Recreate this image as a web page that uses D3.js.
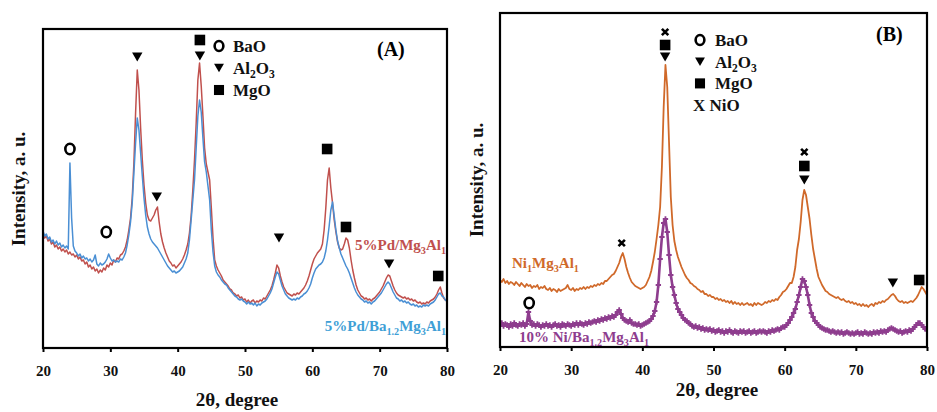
<!DOCTYPE html>
<html><head><meta charset="utf-8">
<script src="https://cdn.jsdelivr.net/npm/d3@7"></script>
<style>body{margin:0;background:#fff} svg{display:block}</style>
</head><body>
<svg id="c" width="937" height="412"></svg>
<script>
// ---------------- DATA ----------------
// sampling grid: 2θ from 20° to 80° every 0.25° (241 points per pattern)
const thetaStart = 20, thetaStep = 0.25;
const xTicks = [20, 30, 40, 50, 60, 70, 80];

// Panel A: 5%Pd/Mg3Al1 (red), intensity a.u.
const redA = [
115,110,112,107, 109,104,106,101, 103,99,101,97, 99,96,98,94, 96,93,94,91,
93,89,91,87, 88,84,86,81, 83,79,81,77, 79,75,78,76, 80,78,83,81,
85,83,88,86, 90,89,93,94, 97,101,108,118, 130,150,185,235, 278,258,220,188,
163,145,133,128, 127,130,133,138, 141,126,114,106, 100,95,91,87, 85,82,83,80,
82,84,86,89, 93,98,104,115, 132,158,188,225, 268,285,262,232, 200,184,176,168,
140,110,88,82, 78,75,72,68, 66,64,62,59, 58,55,54,52, 53,50,51,48,
49,46,48,45, 47,48,45,47, 46,48,47,50, 49,52,55,58, 62,68,75,83,
80,72,66,61, 58,55,54,53, 52,54,53,55, 54,56,58,60, 63,67,72,78,
84,89,92,95, 97,99,104,118, 140,168,180,160, 145,128,116,106, 100,98,99,104,
110,108,100,88, 78,70,63,58, 55,52,51,49, 50,48,49,47, 49,50,52,54,
56,59,62,66, 70,73,72,67, 62,58,55,53, 52,51,50,51, 49,50,48,49,
47,48,46,45, 46,44,45,44, 46,45,47,48, 49,51,54,58, 61,55,50,48,
47];

// Panel A: 5%Pd/Ba1.2Mg3Al1 (blue)
const blueA = [
117,112,114,109, 111,106,108,104, 107,103,105,101, 103,100,102,99, 185,130,102,97,
95,92,94,90, 92,89,90,87, 89,86,88,93, 84,82,85,83, 84,86,89,94,
90,87,88,86, 87,86,89,88, 91,95,103,113, 126,145,175,205, 230,218,195,172,
150,133,121,114, 109,106,104,102, 100,97,94,91, 88,85,82,80, 78,76,77,75,
76,77,79,81, 85,89,95,108, 128,148,168,200, 232,248,236,210, 186,176,162,148,
118,96,82,76, 73,71,68,66, 64,63,60,58, 56,54,52,51, 49,48,49,47,
46,44,46,44, 45,43,45,42, 44,43,45,46, 47,49,52,55, 59,65,71,76,
74,68,62,58, 54,52,50,49, 48,49,48,50, 49,51,52,54, 55,57,60,64,
70,75,79,81, 83,84,86,90, 97,108,122,138, 146,132,118,107, 100,94,90,86,
82,79,75,70, 65,60,56,53, 51,49,48,46, 47,45,46,44, 46,47,49,51,
53,55,58,61, 64,66,64,60, 56,53,50,49, 47,48,46,47, 45,46,44,43,
44,42,43,41, 42,41,43,42, 43,42,44,45, 46,48,51,54, 55,52,51,48,
47];

// Panel B: Ni1Mg3Al1 (orange)
const orangeB = [
67,65,68,64, 66,63,65,64, 62,65,63,61, 64,62,60,63, 61,62,59,61,
60,62,58,60, 59,61,58,57, 59,56,58,57, 55,58,56,57, 58,59,62,58,
57,59,56,58, 57,59,58,60, 58,60,59,61, 60,62,61,63, 62,64,63,66,
66,68,70,72, 73,76,80,84, 90,94,88,80, 74,69,65,63, 61,60,59,58,
59,60,62,66, 70,76,85,95, 108,122,140,180, 240,282,260,205, 150,122,106,97,
90,85,80,76, 72,69,67,64, 63,61,60,58, 57,55,56,53, 53,51,52,50,
50,48,49,47, 48,46,47,45, 46,44,46,43, 45,43,44,42, 44,42,43,44,
42,43,41,44, 42,44,43,42, 43,45,44,46, 45,47,46,48, 47,50,52,55,
56,58,61,64, 64,70,80,97, 108,125,147,157, 152,140,128,112, 98,88,78,70,
66,62,59,56, 55,53,52,51, 50,49,50,48, 47,48,46,45, 46,44,45,43,
44,42,43,41, 43,41,42,40, 42,43,41,44, 43,45,44,46, 45,47,48,50,
52,53,51,48, 46,45,46,44, 45,44,45,46, 45,47,49,52, 56,60,58,55,
52];

// Panel B: 10% Ni/Ba1.2Mg3Al1 (purple)
const purpleB = [
22,24,21,23, 22,20,23,21, 24,22,21,23, 22,24,21,23, 35,26,22,23,
21,23,22,20, 22,21,23,21, 22,20,22,23, 21,22,20,23, 22,21,23,22,
21,23,22,24, 22,24,23,22, 24,23,25,24, 25,26,25,27, 26,28,27,29,
28,30,29,31, 30,32,35,37, 33,29,27,26, 25,27,24,23, 23,22,23,21,
22,23,24,25, 26,28,31,36, 45,62,88,110, 124,128,115,92, 72,60,52,44,
38,35,32,29, 27,26,24,23, 21,20,21,19, 20,18,19,17, 18,17,18,16,
17,15,16,17, 15,16,14,16, 15,17,15,14, 16,15,14,16, 15,16,14,15,
16,14,15,16, 14,15,16,15, 16,15,14,16, 15,17,16,17, 18,17,19,20,
20,22,24,27, 30,34,38,45, 52,60,68,66, 60,52,42,34, 30,26,24,22,
20,19,18,17, 17,16,15,16, 15,14,15,14, 15,13,14,15, 14,13,14,13,
14,15,13,14, 13,15,14,13, 14,13,15,14, 15,14,16,15, 16,15,17,18,
19,18,17,16, 15,16,14,15, 16,15,17,16, 18,20,22,24, 24,22,20,18,
17];

// phase markers: 2θ and intensity level where each symbol sits
const phaseMarksA = [
  {phase:"MgO", t:43.3, v:308}, {phase:"Al2O3", t:43.3, v:292},
  {phase:"Al2O3", t:34.0, v:291}, {phase:"BaO", t:24.0, v:199},
  {phase:"Al2O3", t:36.9, v:151}, {phase:"BaO", t:29.4, v:116},
  {phase:"MgO", t:62.2, v:199}, {phase:"Al2O3", t:55.05, v:110},
  {phase:"MgO", t:65.0, v:121}, {phase:"Al2O3", t:71.4, v:84},
  {phase:"MgO", t:78.7, v:72}
];
const phaseMarksB = [
  {phase:"NiO", t:43.2, v:315}, {phase:"MgO", t:43.2, v:302}, {phase:"Al2O3", t:43.2, v:290},
  {phase:"NiO", t:62.76, v:195}, {phase:"MgO", t:62.76, v:181}, {phase:"Al2O3", t:62.76, v:167},
  {phase:"NiO", t:37.1, v:104}, {phase:"BaO", t:24.1, v:44},
  {phase:"Al2O3", t:75.2, v:64}, {phase:"MgO", t:78.9, v:67}
];
const legendA = [{phase:"BaO", label:"BaO"}, {phase:"Al2O3", label:"Al_{2}O_{3}"}, {phase:"MgO", label:"MgO"}];
const legendB = [{phase:"BaO", label:"BaO"}, {phase:"Al2O3", label:"Al_{2}O_{3}"}, {phase:"MgO", label:"MgO"}, {phase:"NiO", label:"X NiO"}];
const seriesNamesA = ["5%Pd/Mg_{3}Al_{1}", "5%Pd/Ba_{1.2}Mg_{3}Al_{1}"];
const seriesNamesB = ["Ni_{1}Mg_{3}Al_{1}", "10% Ni/Ba_{1.2}Mg_{3}Al_{1}"];

// ---------------- DRAWING ----------------
const svg = d3.select("#c");
const FONT = "'Liberation Serif', 'DejaVu Serif', serif";

function rich(sel, str, fs) {
  const parts = str.split(/(_\{[^}]*\})/).filter(s => s.length);
  let inSub = false;
  parts.forEach(p => {
    const isSub = p.startsWith("_{");
    const t = sel.append("tspan").text(isSub ? p.slice(2, -1) : p);
    if (isSub) { t.attr("font-size", fs * 0.68); if (!inSub) t.attr("dy", fs * 0.26); }
    else if (inSub) t.attr("dy", -fs * 0.26);
    inSub = isSub;
  });
}

function marker(g, phase, cx, cy, sc) {
  sc = sc || 1;
  if (phase === "BaO") {
    g.append("ellipse").attr("cx", cx).attr("cy", cy).attr("rx", 4.6 * sc).attr("ry", 5.2 * sc)
      .attr("fill", "none").attr("stroke", "#000").attr("stroke-width", 2.6);
  } else if (phase === "Al2O3") {
    const w = 5.2 * sc, h = 9 * sc;
    g.append("path").attr("d", `M${cx - w},${cy - h / 2}L${cx + w},${cy - h / 2}L${cx},${cy + h / 2}Z`).attr("fill", "#000");
  } else if (phase === "MgO") {
    const s = 5.3 * sc;
    g.append("rect").attr("x", cx - s).attr("y", cy - s).attr("width", 2 * s).attr("height", 2 * s).attr("fill", "#000");
  } else if (phase === "NiO") {
    const s = 3.2 * sc;
    g.append("path").attr("d", `M${cx - s},${cy - s}L${cx + s},${cy + s}M${cx + s},${cy - s}L${cx - s},${cy + s}`)
      .attr("stroke", "#000").attr("stroke-width", 2.6).attr("fill", "none");
  }
}

function panel(cfg) {
  const g = svg.append("g");
  const x = d3.scaleLinear().domain([20, 80]).range([cfg.left, cfg.right]);
  const y = d3.scaleLinear().domain([0, cfg.ymax]).range([cfg.bottom, cfg.top]);
  const clipId = "clip" + cfg.id;
  svg.append("clipPath").attr("id", clipId).append("rect")
    .attr("x", cfg.left).attr("y", cfg.top).attr("width", cfg.right - cfg.left).attr("height", cfg.bottom - cfg.top);
  const line = d3.line().x((d, i) => x(thetaStart + i * thetaStep)).y(d => y(d));
  const lg = g.append("g").attr("clip-path", `url(#${clipId})`);
  cfg.series.forEach(s => {
    lg.append("path").attr("d", line(s.values)).attr("fill", "none")
      .attr("stroke", s.color).attr("stroke-width", s.width).attr("stroke-linejoin", "round");
    if (s.cross) {
      const sym = d3.symbol().type(d3.symbolCross).size(16);
      lg.selectAll(null).data(s.values).join("path")
        .attr("transform", (d, i) => `translate(${x(thetaStart + i * thetaStep)},${y(d)})`)
        .attr("d", sym).attr("fill", s.color);
    }
  });
  // box
  g.append("rect").attr("x", cfg.left).attr("y", cfg.top).attr("width", cfg.right - cfg.left)
    .attr("height", cfg.bottom - cfg.top).attr("fill", "none").attr("stroke", "#000").attr("stroke-width", 2.2);
  // axis
  const ax = g.append("g").attr("transform", `translate(0,${cfg.bottom})`)
    .call(d3.axisBottom(x).tickValues(xTicks).tickSize(4).tickSizeOuter(0).tickPadding(13).tickFormat(d3.format("d")));
  ax.select(".domain").remove();
  ax.selectAll("line").attr("stroke", "#000").attr("stroke-width", 2);
  ax.selectAll("text").attr("font-family", FONT).attr("font-size", 15).attr("font-weight", "bold").attr("fill", "#111");
  // axis titles
  g.append("text").attr("x", cfg.xtX).attr("y", cfg.xtY).attr("text-anchor", "middle")
    .attr("font-family", FONT).attr("font-size", 19).attr("font-weight", "bold").attr("fill", "#111").text("2θ, degree");
  g.append("text").attr("transform", `translate(${cfg.ytX},${cfg.ytY}) rotate(-90)`).attr("text-anchor", "middle")
    .attr("font-family", FONT).attr("font-size", 19).attr("font-weight", "bold").attr("fill", "#111").text("Intensity, a. u.");
  // panel letter
  g.append("text").attr("x", cfg.letX).attr("y", cfg.letY).attr("font-family", FONT).attr("font-size", 20)
    .attr("font-weight", "bold").attr("fill", "#000").text(cfg.letter);
  // phase markers
  cfg.marks.forEach(m => marker(g, m.phase, x(m.t), y(m.v)));
  // legend
  cfg.legend.forEach((L, i) => {
    const by = cfg.legY + i * cfg.legDy;
    const isX = L.phase === "NiO";
    if (!isX) marker(g, L.phase, cfg.legSymX, by - 6, 0.95);
    const t = g.append("text").attr("x", isX ? cfg.legSymX - 7 : cfg.legTxtX).attr("y", by)
      .attr("font-family", FONT).attr("font-size", 17).attr("font-weight", "bold").attr("fill", "#111");
    rich(t, L.label, 17);
  });
  // series labels
  cfg.labels.forEach(L => {
    const t = g.append("text").attr("x", L.x).attr("y", L.y).attr("text-anchor", L.anchor)
      .attr("font-family", FONT).attr("font-size", 15).attr("font-weight", "bold").attr("fill", L.color);
    rich(t, L.text, 15);
  });
}

panel({
  id: "A", left: 43, right: 447, top: 29, bottom: 348, ymax: 319,
  series: [
    {values: redA, color: "#c0504d", width: 1.5},
    {values: blueA, color: "#4a8fd4", width: 1.5}
  ],
  xtX: 237, xtY: 406, ytX: 25, ytY: 189,
  letter: "(A)", letX: 377, letY: 56,
  marks: phaseMarksA, legend: legendA, legSymX: 219, legTxtX: 233, legY: 52, legDy: 22,
  labels: [
    {text: seriesNamesA[0], x: 446, y: 250, anchor: "end", color: "#c0504d"},
    {text: seriesNamesA[1], x: 446, y: 331, anchor: "end", color: "#3f9fd6"}
  ]
});
panel({
  id: "B", left: 500, right: 927, top: 13, bottom: 347, ymax: 334,
  series: [
    {values: orangeB, color: "#d0692a", width: 1.8},
    {values: purpleB, color: "#8e3d8e", width: 2.6, cross: true}
  ],
  xtX: 717, xtY: 396, ytX: 483, ytY: 180,
  letter: "(B)", letX: 876, letY: 41,
  marks: phaseMarksB, legend: legendB, legSymX: 700, legTxtX: 715, legY: 46, legDy: 21.7,
  labels: [
    {text: seriesNamesB[0], x: 512, y: 268, anchor: "start", color: "#d0692a"},
    {text: seriesNamesB[1], x: 519, y: 342, anchor: "start", color: "#8e3d8e"}
  ]
});
</script>
</body></html>
